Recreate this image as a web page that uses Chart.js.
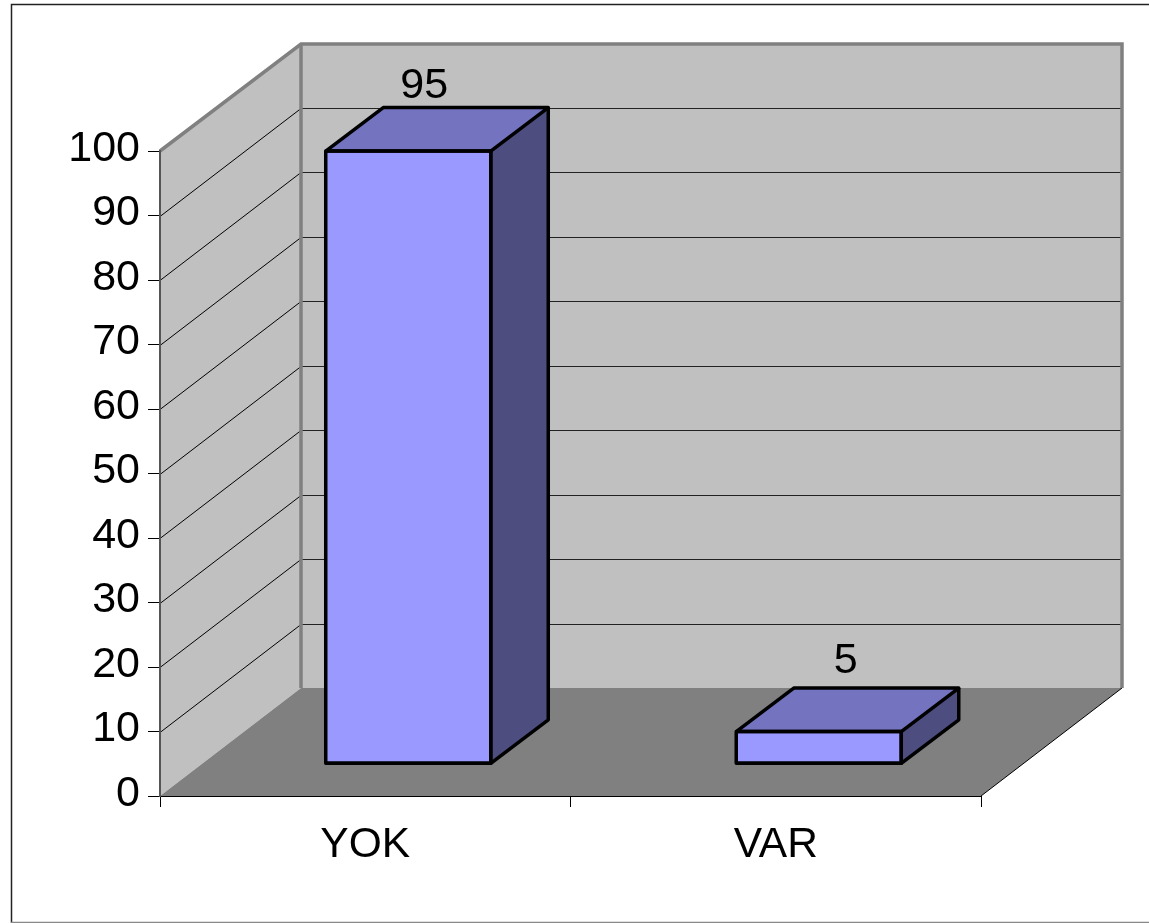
<!DOCTYPE html>
<html>
<head>
<meta charset="utf-8">
<title>YOK / VAR</title>
<script src="https://cdn.jsdelivr.net/npm/chart.js@4"></script>
<style>
  html, body { margin: 0; padding: 0; background: #fff; overflow: hidden; }
  canvas { display: block; }
</style>
</head>
<body>
<canvas id="chart" width="1149" height="923"></canvas>
<script>
const categories = ['YOK', 'VAR'];
const values = [95, 5];
const yTicks = [0, 10, 20, 30, 40, 50, 60, 70, 80, 90, 100];

// 3d look: wall depth, how far bars sit from the front plane, bar depth
const WALL = { dx: 141, dy: -108 };
const SHIFT = { dx: 43, dy: -32.2 };
const BAR = { dx: 57.5, dy: -43.5 };
const LABEL_SHIFT = [16, 27];
const LABEL_GAP = [10, 15];
const FONT = '"Liberation Sans", Arial, sans-serif';

function poly(ctx, pts, fill, stroke, width) {
  ctx.beginPath();
  pts.forEach((p, i) => (i ? ctx.lineTo(p[0], p[1]) : ctx.moveTo(p[0], p[1])));
  if (fill) {
    ctx.closePath();
    ctx.fillStyle = fill;
    ctx.fill();
  }
  if (stroke) {
    ctx.strokeStyle = stroke;
    ctx.lineWidth = width;
    ctx.stroke();
  }
}

const frame = {
  id: 'frame',
  beforeDraw(chart) {
    const ctx = chart.ctx;
    ctx.save();
    poly(ctx, [[11.5, 923], [11.5, 4.5], [1149, 4.5]], null, '#222', 1.5);
    poly(ctx, [[11, 922.5], [1149, 922.5]], null, '#888', 1.5);
    ctx.restore();
  },
};

const walls = {
  id: 'walls',
  beforeDraw(chart) {
    const ctx = chart.ctx;
    const { left, right, top, bottom } = chart.chartArea;
    const bx = left + WALL.dx, rx = right + WALL.dx;
    const by = bottom + WALL.dy, ty = top + WALL.dy + 1;
    const y = chart.scales.y;

    ctx.save();
    poly(ctx, [[bx, ty], [rx, ty], [rx, by], [bx, by]], '#c0c0c0');
    poly(ctx, [[left, top], [bx, ty], [bx, by], [left, bottom]], '#c0c0c0');
    poly(ctx, [[left, bottom], [bx, by], [rx, by], [right, bottom]], '#808080');

    yTicks.slice(1, -1).forEach(v => {
      const py = Math.round(y.getPixelForValue(v)) + 0.5;
      poly(ctx, [[left, py], [bx, py + WALL.dy]], null, '#000', 1);
      poly(ctx, [[bx, py + WALL.dy], [rx, py + WALL.dy]], null, '#222', 1.2);
    });

    poly(ctx, [[left, top], [bx, ty], [rx, ty], [rx, by]], null, '#808080', 3.5);
    poly(ctx, [[bx, ty], [bx, by]], null, '#808080', 3.5);
    poly(ctx, [[right, bottom], [rx, by]], null, '#000', 1);
    ctx.restore();
  },
};

const bars3d = {
  id: 'bars3d',
  beforeDatasetsDraw(chart) {
    const ctx = chart.ctx;
    ctx.save();
    ctx.translate(SHIFT.dx, SHIFT.dy);
    chart.getDatasetMeta(0).data.forEach(bar => {
      const l = bar.x - bar.width / 2, r = bar.x + bar.width / 2;
      const t = bar.y, b = bar.base;
      poly(ctx, [[l, t], [l + BAR.dx, t + BAR.dy], [r + BAR.dx, t + BAR.dy], [r, t]], '#7373bf');
      poly(ctx, [[r, t], [r + BAR.dx, t + BAR.dy], [r + BAR.dx, b + BAR.dy], [r, b]], '#4d4d80');
    });
  },
  afterDatasetsDraw(chart) {
    const ctx = chart.ctx;
    ctx.lineJoin = 'round';
    chart.getDatasetMeta(0).data.forEach((bar, i) => {
      const l = bar.x - bar.width / 2, r = bar.x + bar.width / 2;
      const t = bar.y, b = bar.base;
      poly(ctx, [[l, t], [r, t], [r, b], [l, b]], null, '#000', 3.5);
      ctx.closePath();
      ctx.stroke();
      poly(ctx, [[l, t], [l + BAR.dx, t + BAR.dy], [r + BAR.dx, t + BAR.dy], [r, t]], null, '#000', 3.5);
      poly(ctx, [[r + BAR.dx, t + BAR.dy], [r + BAR.dx, b + BAR.dy], [r, b]], null, '#000', 3.5);

      ctx.fillStyle = '#000';
      ctx.font = '43px ' + FONT;
      ctx.textAlign = 'center';
      ctx.textBaseline = 'alphabetic';
      ctx.fillText(String(values[i]), bar.x + LABEL_SHIFT[i], t + BAR.dy - LABEL_GAP[i]);
    });
    ctx.restore();
  },
};

new Chart(document.getElementById('chart'), {
  type: 'bar',
  data: {
    labels: categories,
    datasets: [{
      data: values,
      backgroundColor: '#9999ff',
      borderWidth: 0,
      barPercentage: 0.402,
      categoryPercentage: 1,
      clip: false,
    }],
  },
  options: {
    responsive: false,
    animation: false,
    layout: { padding: { top: 151, right: 168, left: 0, bottom: 0 } },
    scales: {
      x: {
        afterFit: scale => { scale.height = 127; },
        grid: { offset: true, drawOnChartArea: false, color: '#000', tickLength: 11 },
        border: { color: '#000', width: 1 },
        ticks: { color: '#000', padding: 13, font: { family: FONT, size: 42.5 }, maxRotation: 0 },
      },
      y: {
        min: 0,
        max: 100,
        afterFit: scale => { scale.width = 160; },
        afterBuildTicks: scale => { scale.ticks = yTicks.map(value => ({ value })); },
        grid: { drawOnChartArea: false, color: '#000', tickLength: 12 },
        border: { color: '#555', width: 2 },
        ticks: { color: '#000', padding: 8, labelOffset: -2, font: { family: FONT, size: 43 } },
      },
    },
    plugins: {
      legend: { display: false },
      title: { display: false },
      tooltip: { enabled: false },
    },
  },
  plugins: [frame, walls, bars3d],
});
</script>
</body>
</html>
